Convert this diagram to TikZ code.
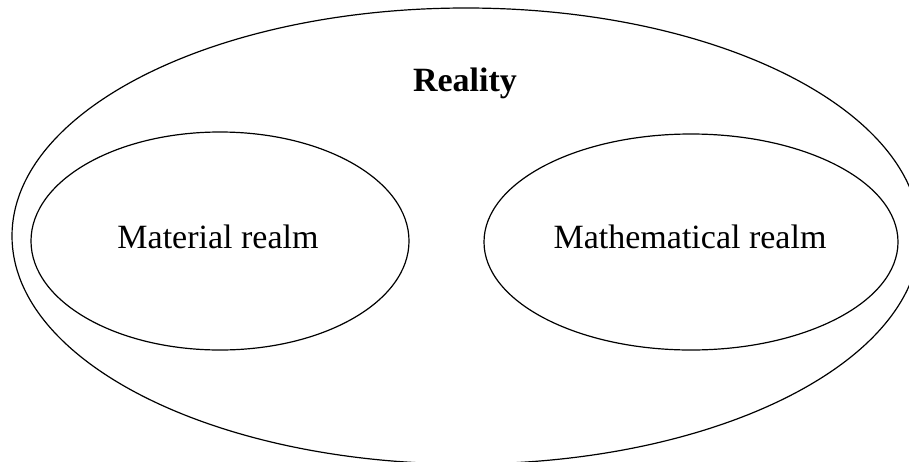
\documentclass[tikz,border=0pt]{standalone}
\usepackage{fontspec}
\setmainfont{Liberation Serif}
\begin{document}
\begin{tikzpicture}[x=1pt,y=-1pt,
  realm/.style={draw=black,line width=1.2pt},
  lbl/.style={anchor=base,inner sep=0pt,font=\fontsize{34}{40}\selectfont}]
\useasboundingbox (0,0) rectangle (909,461);
\begin{scope}
\clip (0,0) rectangle (909,461);
\draw[realm] (466,236) ellipse [x radius=454, y radius=228];
\end{scope}
\draw[realm] (220,241) ellipse [x radius=189, y radius=109];
\draw[realm] (691,242) ellipse [x radius=207, y radius=108];
\node[lbl,font=\fontsize{34}{40}\selectfont\bfseries] (reality) at (465,91) {Reality};
\node[lbl] (material) at (218,248) {Material realm};
\node[lbl] (math) at (690,248) {Mathematical realm};
\end{tikzpicture}
\end{document}
